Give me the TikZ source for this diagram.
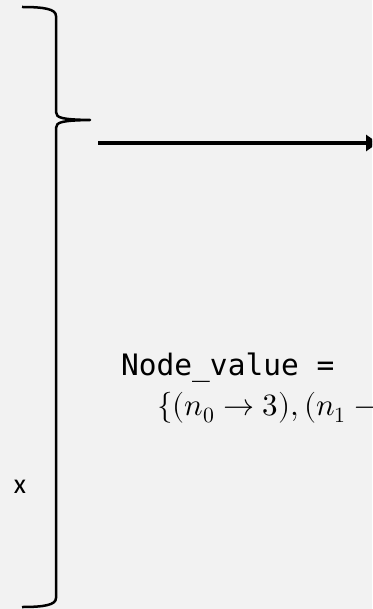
\documentclass[tikz,border=0pt]{standalone}
\usepackage{fontspec}
\usepackage{unicode-math}
\usepackage{tikz}
\usetikzlibrary{arrows.meta,positioning}
\setmonofont{DejaVu Sans Mono}
\setmathfont{Latin Modern Math}
\newfontfamily\labelfont{Carlito}
\definecolor{bggray}{HTML}{F2F2F2}

\begin{document}
\begin{tikzpicture}[
    x=1pt, y=-1pt,
    bracket/.style={draw, line width=2.5pt, line join=round},
    arrow/.style={-{Triangle[length=12pt, width=16pt]}, line width=3.2pt},
    codetext/.style={inner sep=0pt, anchor=base west, font=\ttfamily\fontsize{29.5}{34}\selectfont},
    mathtext/.style={inner sep=0pt, anchor=base west, font=\fontsize{31}{36}\selectfont},
    sidelabel/.style={inner sep=0pt, font=\labelfont\fontsize{28}{32}\selectfont}
]

% --- frame ---
\fill[bggray] (0,0) rectangle (372,609);
\useasboundingbox (0,0) rectangle (372,609);
\clip (0,0) rectangle (372,609);

% --- brace ---
\draw[bracket] (22,7) .. controls (44,7) and (56,9) .. (56,16)
    -- (56,112) .. controls (56,118) and (62,119.5) .. (90,120)
    .. controls (62,120.5) and (56,122) .. (56,128)
    -- (56,598) .. controls (56,605) and (44,607) .. (22,607);

\node[sidelabel] (xlabel) at (20,487) {x};

% --- arrow ---
\coordinate (arrstart) at (98,143);
\coordinate (arrend) at (378,143);
\draw[arrow] (arrstart) -- (arrend);

% --- text ---
\node[codetext] (nodeval) at (121,375) {Node\_value =};
\node[mathtext] (valset) at (157,415) {$\{(n_0 \rightarrow 3),(n_1 \rightarrow$};

\end{tikzpicture}
\end{document}
